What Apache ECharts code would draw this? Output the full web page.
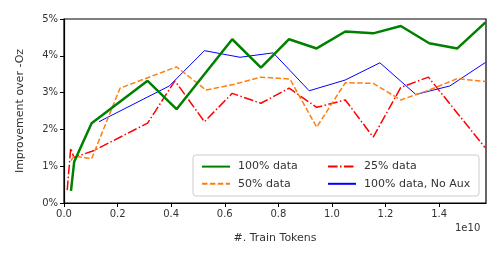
<!DOCTYPE html>
<html><head><meta charset="utf-8">
<script src="https://cdn.jsdelivr.net/npm/echarts@6/dist/echarts.min.js"></script>
<style>html,body{margin:0;padding:0;background:#fff}#c{width:500px;height:260px}</style>
</head><body><div id="c"></div>
<script>
// x values in units of 1e10 train tokens, y values in % improvement over -Oz
const fullX   = [0.026, 0.038, 0.103, 0.312, 0.420, 0.628, 0.735, 0.840, 0.943, 1.050, 1.154, 1.257, 1.363, 1.468, 1.573];
const fullY   = [0.33, 1.12, 2.17, 3.32, 2.55, 4.45, 3.68, 4.45, 4.20, 4.66, 4.61, 4.81, 4.34, 4.20, 4.91];
const halfX   = [0.026, 0.038, 0.103, 0.209, 0.420, 0.530, 0.632, 0.735, 0.843, 0.943, 1.050, 1.154, 1.257, 1.363, 1.468, 1.573];
const halfY   = [1.15, 1.28, 1.20, 3.12, 3.70, 3.07, 3.22, 3.42, 3.37, 2.06, 3.27, 3.25, 2.80, 3.07, 3.38, 3.30];
const quartX  = [0.012, 0.025, 0.037, 0.110, 0.312, 0.414, 0.524, 0.628, 0.735, 0.840, 0.943, 1.050, 1.154, 1.257, 1.360, 1.571];
const quartY  = [0.35, 1.49, 1.24, 1.42, 2.17, 3.32, 2.21, 2.98, 2.71, 3.12, 2.60, 2.80, 1.79, 3.14, 3.42, 1.51];
const noAuxX  = [0.131, 0.393, 0.524, 0.657, 0.781, 0.915, 1.049, 1.179, 1.313, 1.440, 1.573];
const noAuxY  = [2.21, 3.18, 4.14, 3.96, 4.08, 3.05, 3.34, 3.81, 2.95, 3.18, 3.82];
const yTicks  = [0, 1, 2, 3, 4, 5];
const seriesNames = ['100% data', '50% data', '25% data', '100% data, No Aux'];

const zip = (xs, ys) => xs.map((x, i) => [x, ys[i]]);
const font = 'DejaVu Sans';
const legendCommon = {
  orient: 'vertical', top: 156, z: 60, itemWidth: 28, itemHeight: 14, itemGap: 6,
  itemStyle: {color: 'transparent', borderColor: 'transparent', borderWidth: 0},
  textStyle: {fontFamily: font, fontSize: 11, color: '#333', padding: [0, 0, 0, 3]}
};
const chart = echarts.init(document.getElementById('c'), null, {renderer: 'canvas'});
chart.setOption({
  animation: false,
  textStyle: {fontFamily: font},
  grid: {left: 64, right: 14, top: 19, bottom: 57, show: true, borderColor: '#000', borderWidth: 1.2, containLabel: false},
  xAxis: {
    type: 'value', min: 0, max: 1.575, interval: 0.2,
    name: '#. Train Tokens', nameLocation: 'middle', nameGap: 30,
    nameTextStyle: {fontFamily: font, fontSize: 11, color: '#333'},
    axisLine: {lineStyle: {color: '#000', width: 1.2}},
    axisTick: {show: true, inside: false, length: 4, lineStyle: {color: '#000'}},
    axisLabel: {showMaxLabel: false, fontFamily: font, fontSize: 10, color: '#333', margin: 6,
      formatter: v => v.toFixed(1)},
    splitLine: {show: false}
  },
  yAxis: {
    type: 'value', min: yTicks[0], max: yTicks[yTicks.length - 1], interval: 1,
    name: 'Improvement over -Oz', nameLocation: 'middle', nameGap: 38,
    nameTextStyle: {fontFamily: font, fontSize: 11, color: '#333'},
    axisLine: {show: true, lineStyle: {color: '#000', width: 1.2}},
    axisTick: {show: true, inside: false, length: 4, lineStyle: {color: '#000'}},
    axisLabel: {fontFamily: font, fontSize: 10, color: '#333', margin: 6, formatter: v => v + '%'},
    splitLine: {show: false}
  },
  graphic: [
    {type: 'rect', z: 50, shape: {x: 193, y: 155, width: 286, height: 41, r: 3},
     style: {fill: 'rgba(255,255,255,0.8)', stroke: '#ccc', lineWidth: 1}},
    {type: 'text', z: 50, left: 455, top: 223, style: {text: '1e10', font: '10px "DejaVu Sans"', fill: '#333'}}
  ],
  legend: [
    Object.assign({data: [seriesNames[0], seriesNames[1]], left: 196}, legendCommon),
    Object.assign({data: [seriesNames[2], seriesNames[3]], left: 322}, legendCommon)
  ],
  series: [
    {name: seriesNames[0], type: 'line', data: zip(fullX, fullY), showSymbol: false, symbol: 'none', z: 4,
     color: '#008000', lineStyle: {color: '#008000', width: 2.5}},
    {name: seriesNames[1], type: 'line', data: zip(halfX, halfY), showSymbol: false, symbol: 'none', z: 3,
     color: '#ff7f0e', lineStyle: {color: '#ff7f0e', width: 1.5, type: [5.5, 2.4]}},
    {name: seriesNames[2], type: 'line', data: zip(quartX, quartY), showSymbol: false, symbol: 'none', z: 2,
     color: '#ff0000', lineStyle: {color: '#ff0000', width: 1.5, type: [9.6, 2.4, 1.5, 2.4]}},
    {name: seriesNames[3], type: 'line', data: zip(noAuxX, noAuxY), showSymbol: false, symbol: 'none', z: 1,
     color: '#0000ff', lineStyle: {color: '#0000ff', width: 1}}
  ]
});
</script></body></html>
